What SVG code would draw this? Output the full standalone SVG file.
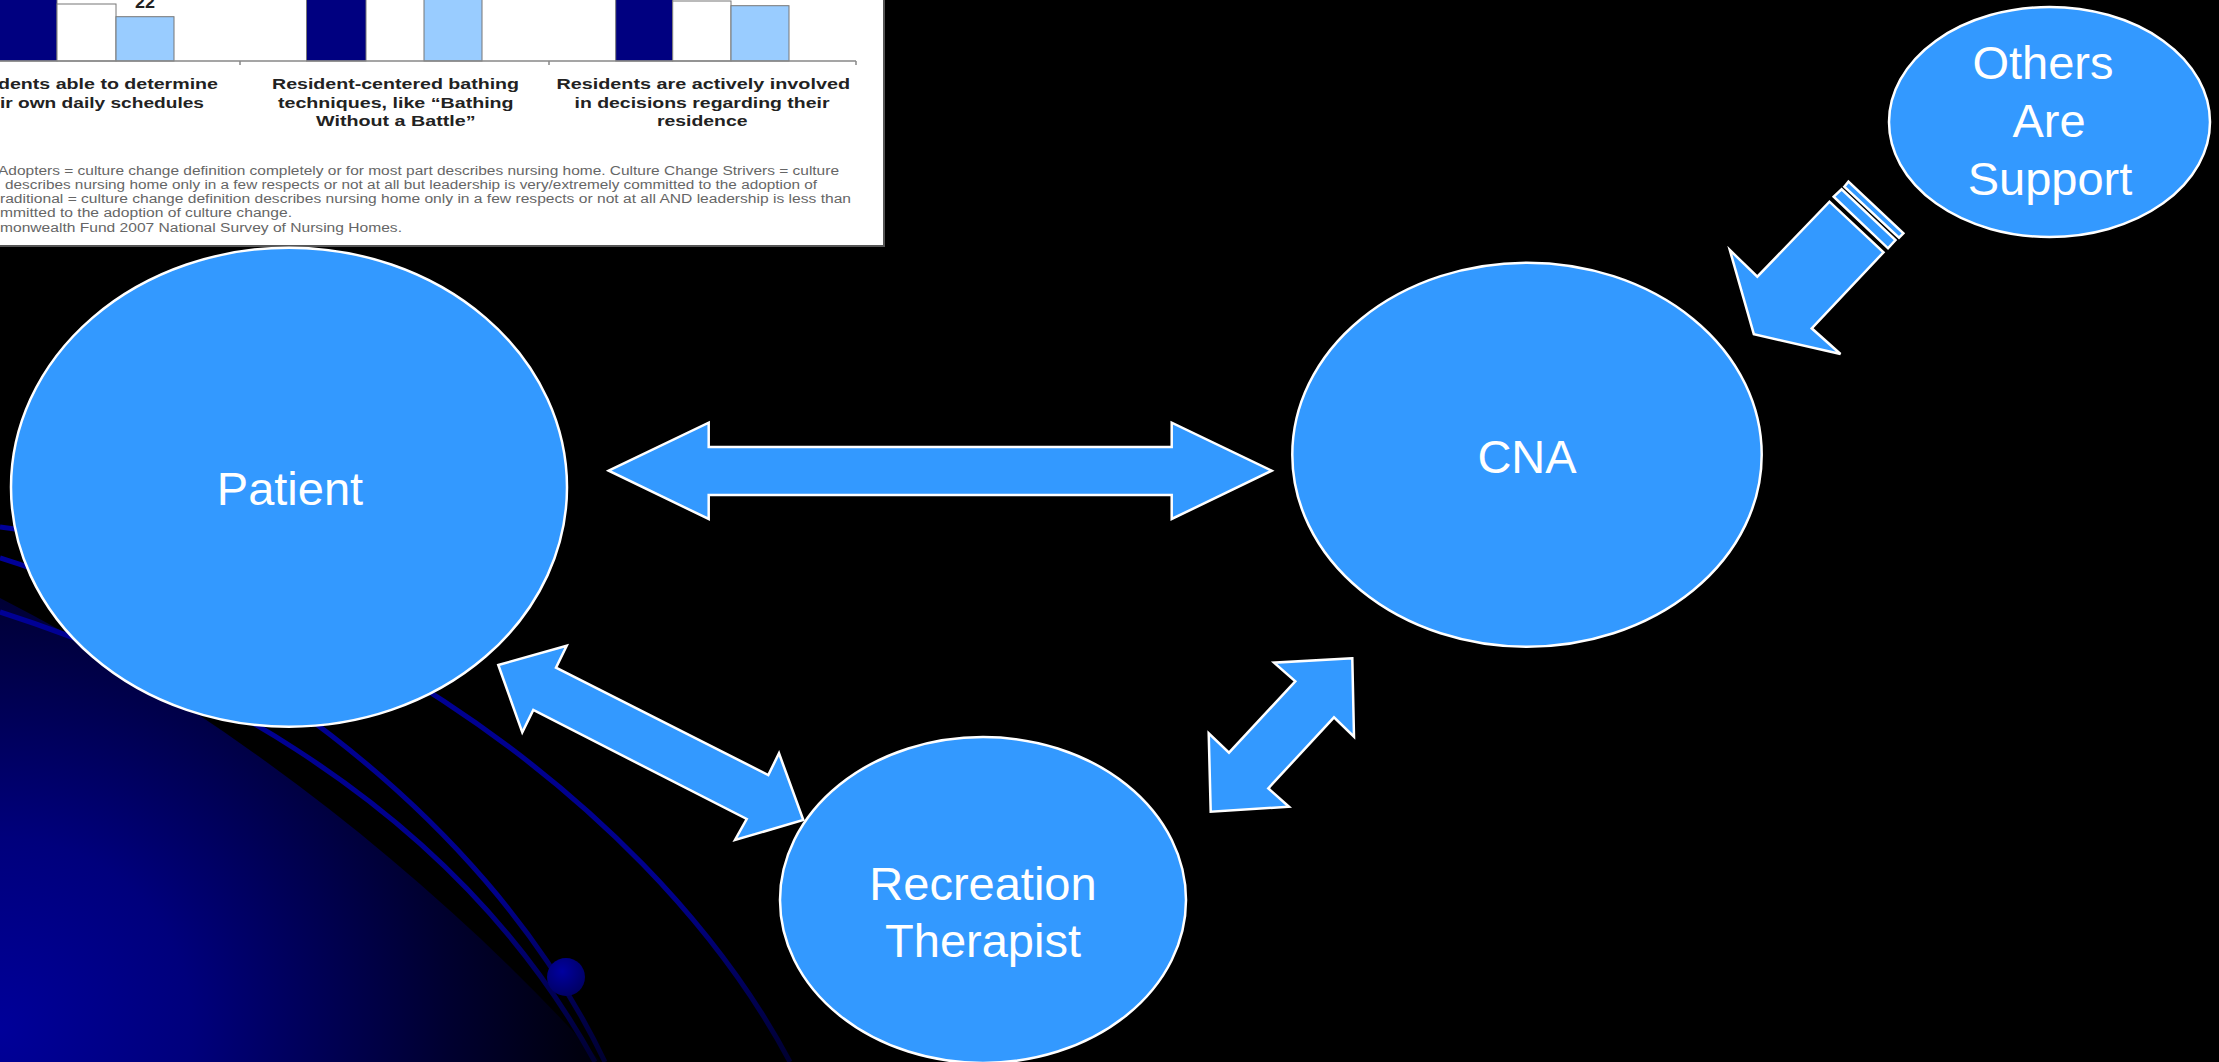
<svg xmlns="http://www.w3.org/2000/svg" width="2219" height="1062" viewBox="0 0 2219 1062">
<defs>
<radialGradient id="bgGlow" gradientUnits="userSpaceOnUse" cx="0" cy="1030" r="640">
<stop offset="0" stop-color="#000099"/>
<stop offset="0.3" stop-color="#00007c"/>
<stop offset="0.7" stop-color="#000030"/>
<stop offset="1" stop-color="#000000"/>
</radialGradient>
<linearGradient id="lineFade" gradientUnits="userSpaceOnUse" x1="0" y1="500" x2="0" y2="1062">
<stop offset="0" stop-color="#000099"/>
<stop offset="0.7" stop-color="#00008a"/>
<stop offset="1" stop-color="#000030"/>
</linearGradient>
<radialGradient id="sphere" cx="0.4" cy="0.35" r="0.7">
<stop offset="0" stop-color="#0000a0"/>
<stop offset="1" stop-color="#000060"/>
</radialGradient>
<style>
.node{fill:#3399ff;stroke:#ffffff;stroke-width:2.5}
.conn{fill:#3399ff;stroke:#ffffff;stroke-width:2.5;stroke-linejoin:miter}
.lbl{font-family:"Liberation Sans",Arial,sans-serif;font-size:47px;fill:#ffffff;text-anchor:middle}
.deco{fill:none;stroke:url(#lineFade);stroke-width:5}
.cat{font-family:"Liberation Sans",Arial,sans-serif;font-size:15.5px;font-weight:bold;fill:#222222}
.fn{font-family:"Liberation Sans",Arial,sans-serif;font-size:12px;fill:#666666}
.bar{stroke:#777777;stroke-width:1}
</style>
</defs>
<rect x="0" y="0" width="2219" height="1062" fill="#000000"/>
<g id="background">
<path d="M 0 598 C 200 700 420 860 601 1062 L 0 1062 Z" fill="url(#bgGlow)"/>
<path class="deco" d="M 0 527 C 280 560 640 780 790 1062"/>
<path class="deco" d="M 0 558 C 200 620 480 800 605 1062"/>
<path class="deco" d="M 0 612 C 150 660 440 780 595 1062"/>
<circle cx="566" cy="977" r="19" fill="url(#sphere)"/>
</g>
<g id="chart">
<rect x="-2" y="-2" width="886" height="248" fill="#ffffff" stroke="#555555" stroke-width="2"/>
<rect class="bar" x="-1" y="-2" width="58" height="63" fill="#000080"/>
<rect class="bar" x="57" y="4" width="59" height="57" fill="#ffffff"/>
<rect class="bar" x="116" y="16.7" width="58" height="44.3" fill="#99ccff"/>
<rect class="bar" x="306.5" y="-2" width="59.5" height="63" fill="#000080"/>
<rect class="bar" x="424" y="-2" width="58" height="63" fill="#99ccff"/>
<rect class="bar" x="615.7" y="-2" width="57" height="63" fill="#000080"/>
<rect class="bar" x="672.7" y="1" width="58.3" height="60" fill="#ffffff"/>
<rect class="bar" x="731" y="5.7" width="58" height="55.3" fill="#99ccff"/>
<path d="M 0 61 H 856 M 240 61 V 65 M 549 61 V 65 M 856 61 V 65" stroke="#888888" stroke-width="1.5" fill="none"/>
<text x="135" y="8" font-family="Liberation Sans, Arial, sans-serif" font-size="16" font-weight="bold" fill="#222222" textLength="20" lengthAdjust="spacingAndGlyphs">22</text>
<text class="cat" x="-2" y="89.3" textLength="220" lengthAdjust="spacingAndGlyphs">dents able to determine</text>
<text class="cat" x="0" y="107.5" textLength="204" lengthAdjust="spacingAndGlyphs">ir own daily schedules</text>
<text class="cat" x="272" y="89.3" textLength="247" lengthAdjust="spacingAndGlyphs">Resident-centered bathing</text>
<text class="cat" x="278" y="107.5" textLength="235.6" lengthAdjust="spacingAndGlyphs">techniques, like “Bathing</text>
<text class="cat" x="316" y="126" textLength="159.6" lengthAdjust="spacingAndGlyphs">Without a Battle”</text>
<text class="cat" x="556.5" y="89.3" textLength="293.5" lengthAdjust="spacingAndGlyphs">Residents are actively involved</text>
<text class="cat" x="574.5" y="107.5" textLength="255" lengthAdjust="spacingAndGlyphs">in decisions regarding their</text>
<text class="cat" x="657" y="126" textLength="90.5" lengthAdjust="spacingAndGlyphs">residence</text>
<text class="fn" x="-2" y="174.5" textLength="841" lengthAdjust="spacingAndGlyphs">Adopters = culture change definition completely or for most part describes nursing home. Culture Change Strivers = culture</text>
<text class="fn" x="5" y="188.5" textLength="812" lengthAdjust="spacingAndGlyphs">describes nursing home only in a few respects or not at all but leadership is very/extremely committed to the adoption of</text>
<text class="fn" x="0" y="202.5" textLength="851" lengthAdjust="spacingAndGlyphs">raditional = culture change definition describes nursing home only in a few respects or not at all AND leadership is less than</text>
<text class="fn" x="0" y="216.5" textLength="292" lengthAdjust="spacingAndGlyphs">mmitted to the adoption of culture change.</text>
<text class="fn" x="0" y="232" textLength="402" lengthAdjust="spacingAndGlyphs">monwealth Fund 2007 National Survey of Nursing Homes.</text>
</g>
<g id="connectors">
<polygon class="conn" points="608.7,470.7 708.7,422.7 708.7,447 1171.7,447 1171.7,422.7 1271.7,470.7 1171.7,519 1171.7,495 708.7,495 708.7,519"/>
<polygon class="conn" points="498.3,665 566.7,645.7 556,667.7 768.3,775 779,753.3 803.3,820 735,840 746.7,819 533.3,710 522.3,732.3"/>
<polygon class="conn" points="1352.3,658.3 1274,662.7 1295.3,681.3 1229,752.7 1208.7,733.3 1210.7,811.7 1289,806.7 1268.3,788.3 1334,717.3 1354,736.7"/>
<polygon class="conn" points="1753.9,334.3 1729.8,250 1757.3,276.7 1829.5,201.7 1883.5,252.3 1811.7,328.3 1840.5,354"/>
<polygon class="conn" points="1833.7,196.7 1841.6,189.3 1895.5,240 1888,248.3"/>
<polygon class="conn" points="1844.3,186.7 1848.4,181.7 1903.4,233.3 1899,237.7"/>
</g>
<g id="patient">
<ellipse class="node" cx="289" cy="487.2" rx="278" ry="239.5"/>
<text class="lbl" x="290" y="505">Patient</text>
</g>
<g id="cna">
<ellipse class="node" cx="1527" cy="454.7" rx="234.7" ry="192"/>
<text class="lbl" x="1527" y="472.7">CNA</text>
</g>
<g id="recreation-therapist">
<ellipse class="node" cx="983" cy="900" rx="203" ry="163"/>
<text class="lbl" x="983" y="900">Recreation</text>
<text class="lbl" x="983" y="957">Therapist</text>
</g>
<g id="others-are-support">
<ellipse class="node" cx="2049.5" cy="122" rx="160.5" ry="115"/>
<text class="lbl" x="2043" y="79">Others</text>
<text class="lbl" x="2049" y="137">Are</text>
<text class="lbl" x="2050" y="195">Support</text>
</g>
</svg>
